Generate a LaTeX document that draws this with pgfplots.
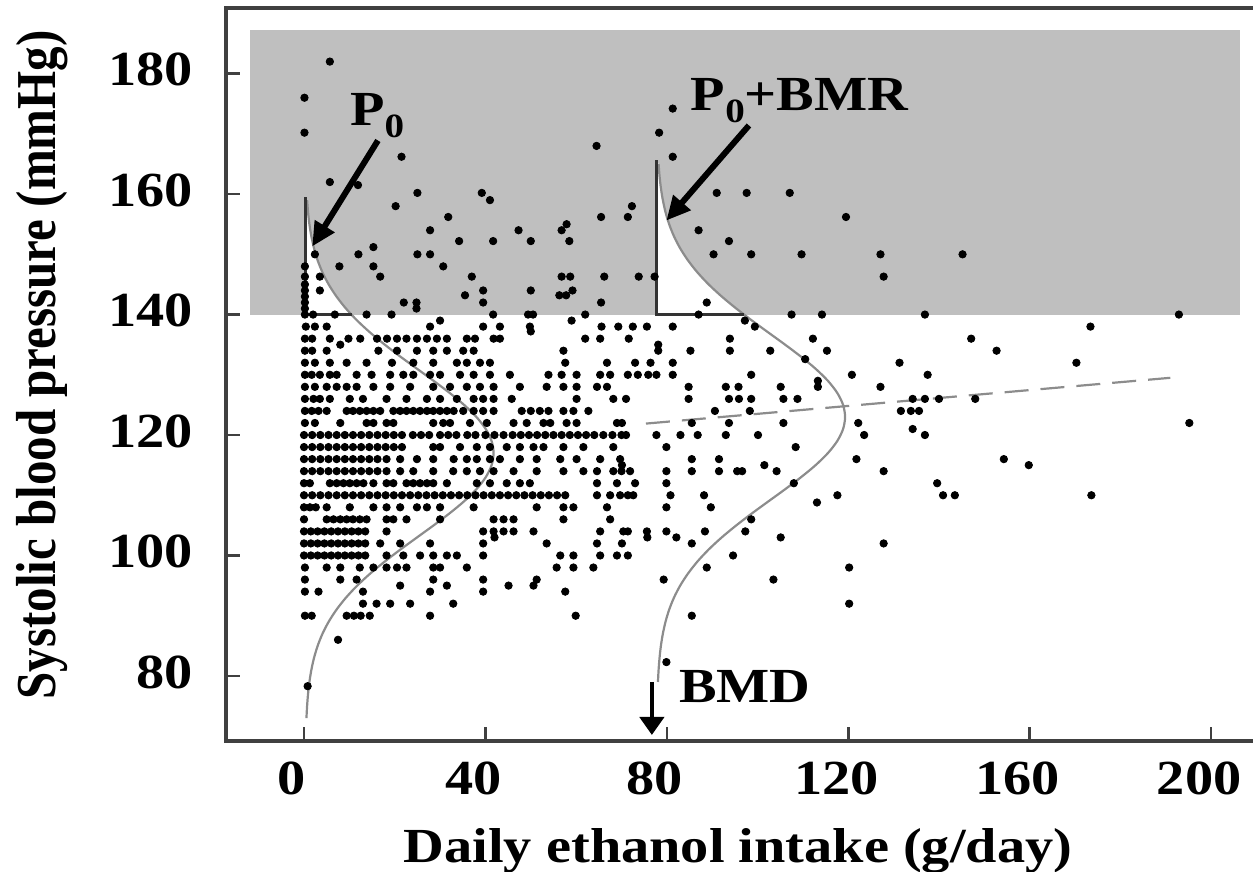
\documentclass[border=0pt]{standalone}
\usepackage{fontspec}
\setmainfont{Liberation Serif}
\usepackage{graphicx}
\usepackage{pgfplots}
\pgfplotsset{compat=1.18}
\usetikzlibrary{arrows.meta}
\newcommand{\sx}[1]{\scalebox{1.15}[1]{#1}}
\newcommand{\lbl}{\fontsize{24.5}{28}\selectfont\bfseries}
\newcommand{\sub}{\raisebox{-6pt}{\fontsize{17}{17}\selectfont 0}}
\begin{document}
\begin{tikzpicture}
\begin{axis}[
 name=ax, scale only axis, width=515pt, height=366.5pt,
 xmin=-17.2, xmax=209.9, ymin=69.2, ymax=190.9,
 axis line style={line width=1.6pt, black!75},
 xtick={0,40,80,120,160,200},
 xticklabels={\sx{0},\sx{40},\sx{80},\sx{120},\sx{160},\sx{200}},
 ytick={80,100,120,140,160,180},
 yticklabels={\sx{80},\sx{100},\sx{120},\sx{140},\sx{160},\sx{180}},
 xtick pos=bottom, ytick pos=left, tick align=inside,
 major tick length=7pt, tick style={line width=1.3pt, black!75},
 ticklabel style={font=\lbl},
 xticklabel style={inner sep=0pt, anchor=base, yshift=-27pt, xshift=-6pt},
 yticklabel style={inner sep=0pt, anchor=east, xshift=-16.5pt, yshift=2pt},
 xlabel={\sx{Daily ethanol intake (g/day)}},
 ylabel={\scalebox{1}[1.15]{Systolic blood pressure (mmHg)}},
 label style={font=\lbl, inner sep=0pt},
 xlabel style={at={([xshift=-1.5pt,yshift=-60.5pt]axis description cs:0.5,0)}, anchor=base},
 ylabel style={at={([xshift=-85pt,yshift=4.75pt]axis description cs:0,0.5)}, anchor=base},
]
% shaded region above 140 mmHg
\addplot[fill=black!25, draw=none] coordinates {(-11.9,140) (206.4,140) (206.4,187.2) (-11.9,187.2)} -- cycle;
% white tails
\addplot[fill=white, draw=none] coordinates {(0.3,140) (10.49,140) (9.25,141) (7.16,143) (5.44,145) (4.07,147) (3.01,149) (2.21,151) (1.62,153) (1.19,155) (0.89,157) (0.68,159) (0.3,159.5)} -- cycle;
\addplot[fill=white, draw=none] coordinates {(77.8,140) (97.0,140) (95.31,141) (92.10,143) (89.23,145) (86.75,147) (84.66,149) (82.94,151) (81.57,153) (80.51,155) (79.71,157) (79.12,159) (78.69,161) (78.39,163) (78.18,165) (77.8,165.6)} -- cycle;
% data points
\addplot[only marks, mark=*, mark size=1.85pt, black] coordinates {
(5.7,182) (0.1,176) (81.3,174.2) (0.1,170.2) (78.3,170.2) (64.5,168) (21.5,166.2) (81.3,166.2)
(5.7,162) (11.9,161.5) (25,160.2) (39.2,160.2) (91,160.2) (97.6,160.2) (107.1,160.2) (41,159)
(20.2,158) (72.3,158) (31.8,156.2) (65.5,156.2) (71.4,156.2) (119.5,156.2) (57.9,155)
(27.8,154) (47.3,154) (56.8,154) (87,154)
(34.2,152.2) (41.7,152.2) (50,152.2) (58.5,152.2) (93.7,152.2) (15.3,151.2)
(2.4,150) (12,150) (25,150) (27.8,150) (90.3,150) (98.6,150) (109.7,150) (127.1,150) (145.2,150)
(0.2,148) (7.8,148) (15.3,148) (30.7,148)
(0.2,146.3) (3.5,146.3) (16.8,146.3) (37,146.3) (56.8,146.3) (58.7,146.3) (66.2,146.3) (73.8,146.3) (77.3,146.3) (127.8,146.3)
(0.2,145) (0.2,144) (3.5,144) (39.5,144) (50,144) (59.2,144)
(0.2,143) (35.5,143.2) (56.3,143.2) (57.8,143.2)
(0.2,142) (22,142) (24.8,142) (39.5,142) (65.5,142) (88.8,142) (0.2,141) (24.8,141)
(0.2,140) (2,140) (6.8,140) (13.8,140) (19.3,140) (41.7,140) (49.4,140) (50.5,140) (62,140) (87,140) (107.5,140) (114.2,140) (136.9,140) (192.9,140)
(30,139) (59,139) (97.2,139)
(0.4,138) (2.4,138) (5,138) (27.8,138) (39.5,138) (43.2,138) (49.8,138) (65.6,138) (69.3,138) (72.5,138) (75.6,138) (81.3,138) (99.4,138) (173.4,138)
(50,137.2)
(0.2,136) (1.8,136) (5.7,136) (9.8,136) (12.4,136) (16.1,136) (18.3,136) (20.5,136) (22.6,136) (24.9,136) (27.1,136) (29.3,136) (31.5,136) (35.9,136) (37.7,136) (41.8,136) (43.2,136) (62,136) (65.3,136) (71.6,136) (93.9,136) (112.2,136) (147.1,136)
(78.1,135) (8,135)
(0.2,134) (1.8,134) (5,134) (16.4,134) (20.5,134) (24.9,134) (28.5,134) (31.5,134) (35.1,134) (37.4,134) (57.2,134) (78.1,134) (85.2,134) (93.9,134) (102.8,134) (115.3,134) (152.7,134)
(0.2,132) (2.4,132) (5.7,132) (9.4,132) (13.8,132) (19.4,132) (24.1,132) (28.5,132) (33.7,132) (35.9,132) (38.8,132) (41,132) (57.6,132) (66.8,132) (73,132) (76.4,132) (81.3,132) (131.3,132) (170.3,132) (110.5,132.6)
(0.2,130) (1.7,130) (3.5,130) (5.7,130) (7.2,130) (11.6,130) (14.9,130) (19,130) (21.9,130) (24.1,130) (27.8,130) (30,130) (34.4,130) (37.4,130) (41,130) (45.4,130) (53.9,130) (56.8,130) (60.1,130) (65.3,130) (67.5,130) (71.4,130) (73.6,130) (75.9,130) (77.7,130) (81.3,130) (98.6,130) (120.8,130) (137.5,130)
(113.3,129)
(0.2,128) (2.4,128) (5,128) (7.2,128) (9.4,128) (11.6,128) (15.3,128) (19,128) (23.4,128) (28.5,128) (32.2,128) (35.9,128) (38.8,128) (41.8,128) (47.6,128) (53.5,128) (57.2,128) (60.1,128) (64.6,128) (66.8,128) (84.8,128) (93,128) (95.8,128) (105.1,128) (113.3,128) (127.1,128)
(0.2,126) (2.1,126) (3.5,126) (5.7,126) (10.1,126) (13,126) (18.2,126) (22.6,126) (27.1,126) (30,126) (33.7,126) (37.4,126) (39.5,126) (41.8,126) (45.8,126) (60.1,126) (68.2,126) (71,126) (84.8,126) (93.7,126) (95.9,126) (98.6,126) (105.7,126) (108.8,126) (134.2,126) (136.9,126) (140,126) (148,126)
(0.2,124) (1.7,124) (3.2,124) (5,124) (9.4,124) (10.8,124) (12.3,124) (13.8,124) (15.3,124) (16.8,124) (19.7,124) (21.2,124) (22.6,124) (24.1,124) (25.6,124) (27.1,124) (28.5,124) (30,124) (31.5,124) (33,124) (35.1,124) (37.4,124) (39.5,124) (41.8,124) (48,124) (50,124) (52,124) (53.9,124) (57.2,124) (59.4,124) (62.7,124) (90.6,124) (98.3,124) (131.6,124) (133.8,124) (135.6,124)
(0.2,122) (2.4,122) (8,122) (13.8,122) (15.3,122) (18.2,122) (19.7,122) (28.5,122) (30.7,122) (32.2,122) (36.6,122) (40.3,122) (46.2,122) (49.1,122) (52.8,122) (54.3,122) (57.9,122) (60.1,122) (69,122) (70.1,122) (85.5,122) (93.7,122) (105.7,122) (122.2,122) (195.2,122)
(134.2,121)
(0,120) (1.8,120) (3.6,120) (5.4,120) (7.2,120) (9,120) (10.8,120) (12.6,120) (14.4,120) (16.2,120) (18,120) (19.8,120) (21.6,120) (24,120) (25.8,120) (27.6,120) (30,120) (31.8,120) (33.6,120) (36,120) (37.8,120) (40,120) (42,120) (44,120) (46,120) (47.8,120) (49.6,120) (51.4,120) (53.2,120) (55,120) (56.8,120) (58.6,120) (60.4,120) (62.2,120) (64,120) (66,120) (68,120) (70,120) (71,120) (77.7,120) (83,120) (86.8,120) (93,120) (100.1,120) (123.5,120) (136.9,120)
(0,118) (1.8,118) (3.6,118) (5.4,118) (7.2,118) (9,118) (10.8,118) (12.6,118) (14.4,118) (16.2,118) (18,118) (19.8,118) (21.6,118) (28.5,118) (30,118) (34.4,118) (38.1,118) (41,118) (44.7,118) (47.6,118) (50.6,118) (52.8,118) (57.2,118) (61.6,118) (68.2,118) (79.9,118) (108.4,118)
(0,116) (1.8,116) (3.6,116) (5.4,116) (7.2,116) (9,116) (10.8,116) (12.6,116) (14.4,116) (16.2,116) (18.2,116) (21.2,116) (24.9,116) (28.5,116) (33,116) (35.9,116) (38.1,116) (41,116) (43.2,116) (47.6,116) (51.3,116) (56.5,116) (60.1,116) (65.3,116) (69.7,116) (85.5,116) (91.5,116) (121.8,116) (154.3,116)
(70.1,115) (101.5,115) (159.8,115)
(0,114) (1.8,114) (3.6,114) (5.4,114) (7.2,114) (9,114) (10.8,114) (12.6,114) (14.4,114) (16.2,114) (18.2,114) (21.2,114) (24.1,114) (28.5,114) (32.9,114) (35.9,114) (38.8,114) (41.8,114) (46.2,114) (51.3,114) (57.2,114) (61.6,114) (64.6,114) (68.2,114) (70,114) (71.9,114) (79.9,114) (85.5,114) (91.5,114) (95.5,114) (96.6,114) (104.2,114) (127.8,114)
(0,112) (1.3,112) (5.7,112) (7.2,112) (8.7,112) (10.1,112) (11.6,112) (13.1,112) (15.3,112) (18.2,112) (19.7,112) (22.6,112) (24.1,112) (25.6,112) (27.1,112) (28.5,112) (31.5,112) (38.1,112) (41,112) (44.7,112) (47.6,112) (49.8,112) (64.6,112) (69,112) (73,112) (79.9,112) (108,112) (139.6,112)
(0,110) (1.8,110) (3.6,110) (5.4,110) (7.2,110) (9,110) (10.8,110) (12.6,110) (14.4,110) (16.2,110) (18,110) (19.8,110) (21.6,110) (23.4,110) (25.2,110) (27,110) (28.8,110) (30.6,110) (32.4,110) (34.2,110) (36,110) (37.8,110) (39.6,110) (41.4,110) (43.2,110) (45,110) (46.8,110) (48.6,110) (50.4,110) (52.2,110) (54,110) (55.8,110) (57.6,110) (64.6,110) (67.5,110) (69.7,110) (71.4,110) (72.6,110) (80.8,110) (88.2,110) (117.6,110) (140.9,110) (143.5,110) (173.6,110)
(113.1,108.8)
(0,108) (1.3,108) (2.6,108) (5,108) (10.1,108) (15.3,108) (18.2,108) (21.2,108) (24.9,108) (27.1,108) (30,108) (37.4,108) (51.3,108) (57.2,108) (59.4,108) (66.8,108) (79.9,108) (89.7,108)
(0,106) (5,106) (6.5,106) (8,106) (9.4,106) (10.8,106) (12.3,106) (13.8,106) (18.2,106) (19.7,106) (22.6,106) (30,106) (41.8,106) (44,106) (46.2,106) (57.2,106) (67.5,106) (98.6,106)
(0,104) (1.5,104) (3,104) (4.5,104) (6,104) (7.5,104) (9,104) (10.5,104) (12,104) (13.5,104) (18.2,104) (39.5,104) (41.8,104) (44,104) (46.2,104) (50.6,104) (65.3,104) (70.4,104) (71.4,104) (75.6,104) (79.9,104) (88.4,104) (97.3,104)
(42,103) (75.7,103) (82.1,103) (105.1,103)
(0,102) (1.5,102) (3,102) (4.5,102) (6,102) (7.5,102) (9,102) (10.5,102) (12,102) (13.5,102) (16.8,102) (21.2,102) (27.8,102) (39.5,102) (53.5,102) (64.6,102) (70.1,102) (85.5,102) (127.8,102)
(0,100) (1.5,100) (3,100) (4.5,100) (6,100) (7.5,100) (9,100) (10.5,100) (12,100) (13.5,100) (18.2,100) (21.9,100) (25.6,100) (28.5,100) (31.5,100) (33.7,100) (39.5,100) (56.5,100) (59.4,100) (65.3,100) (69,100) (71.4,100) (94.6,100)
(0.2,98) (5,98) (8,98) (12.3,98) (15.3,98) (18.2,98) (20.5,98) (22.6,98) (28.5,98) (30,98) (35.9,98) (55.7,98) (59.4,98) (63.8,98) (88.8,98) (120.2,98)
(0.2,96) (8,96) (11.6,96) (28.5,96) (39.5,96) (51.3,96) (79.3,96) (103.5,96)
(21.2,95) (31.5,95) (45.1,95) (50.6,95)
(0.2,94) (3.2,94) (13,94) (27.8,94) (39.5,94) (57.6,94)
(13,92) (16,92) (19,92) (23.4,92) (32.9,92) (120.2,92)
(0.2,90) (1.7,90) (9.4,90) (11,90) (12.5,90) (14.5,90) (27.8,90) (59.9,90) (85.5,90)
(7.5,86) (79.9,82.3) (0.8,78.3)
};
% normal curves
\addplot[smooth, black!45, line width=1.1pt] coordinates {(0.54,73) (0.68,75) (0.89,77) (1.19,79) (1.62,81) (2.21,83) (3.01,85) (4.07,87) (5.44,89) (7.16,91) (9.25,93) (11.73,95) (14.60,97) (17.81,99) (21.28,101) (24.92,103) (28.58,105) (32.09,107) (35.30,109) (38.01,111) (40.07,113) (41.36,115) (41.80,117) (41.36,119) (40.07,121) (38.01,123) (35.30,125) (32.09,127) (28.58,129) (24.92,131) (21.28,133) (17.81,135) (14.60,137) (11.73,139) (9.25,141) (7.16,143) (5.44,145) (4.07,147) (3.01,149) (2.21,151) (1.62,153) (1.19,155) (0.89,157) (0.68,159)};
\addplot[smooth, black!45, line width=1.1pt] coordinates {(78.04,79) (78.18,81) (78.39,83) (78.69,85) (79.12,87) (79.71,89) (80.51,91) (81.57,93) (82.94,95) (84.66,97) (86.75,99) (89.23,101) (92.10,103) (95.31,105) (98.78,107) (102.42,109) (106.08,111) (109.59,113) (112.80,115) (115.51,117) (117.57,119) (118.86,121) (119.30,123) (118.86,125) (117.57,127) (115.51,129) (112.80,131) (109.59,133) (106.08,135) (102.42,137) (98.78,139) (95.31,141) (92.10,143) (89.23,145) (86.75,147) (84.66,149) (82.94,151) (81.57,153) (80.51,155) (79.71,157) (79.12,159) (78.69,161) (78.39,163) (78.18,165)};
% regression line
\addplot[black!45, line width=1.1pt, dash pattern=on 12pt off 6pt] coordinates {(75.4,121.9) (191,129.5)};
% tail outlines
\addplot[black!80, line width=1.5pt] coordinates {(0.3,159.5) (0.3,140) (10.49,140)};
\addplot[black!80, line width=1.5pt] coordinates {(77.8,165.6) (77.8,140) (97.0,140)};
% annotations
\draw[line width=3pt, -{Triangle[length=12pt,width=11pt]}] (axis cs:16.3,168.9) -- (axis cs:1.8,151.3);
\draw[line width=3pt, -{Triangle[length=12pt,width=11pt]}] (axis cs:98.1,171.4) -- (axis cs:79.9,155.6);
\draw[line width=2.2pt, -{Triangle[length=9pt,width=12pt]}] (axis cs:76.7,79) -- (axis cs:76.7,70.2);
\node[anchor=base west, inner sep=0pt, font=\lbl] at (axis cs:10.1,171.4) {\sx{P\sub}};
\node[anchor=base west, inner sep=0pt, font=\lbl] at (axis cs:85.2,173.9) {\sx{P\sub+BMR}};
\node[anchor=base west, inner sep=0pt, font=\lbl] at (axis cs:82.6,75.6) {\sx{BMD}};
\end{axis}
\pgfresetboundingbox
\path[use as bounding box] ([shift={(-113pt,-65.5pt)}]ax.south west) rectangle ([shift={(513.5pt,370.5pt)}]ax.south west);
\end{tikzpicture}
\end{document}
